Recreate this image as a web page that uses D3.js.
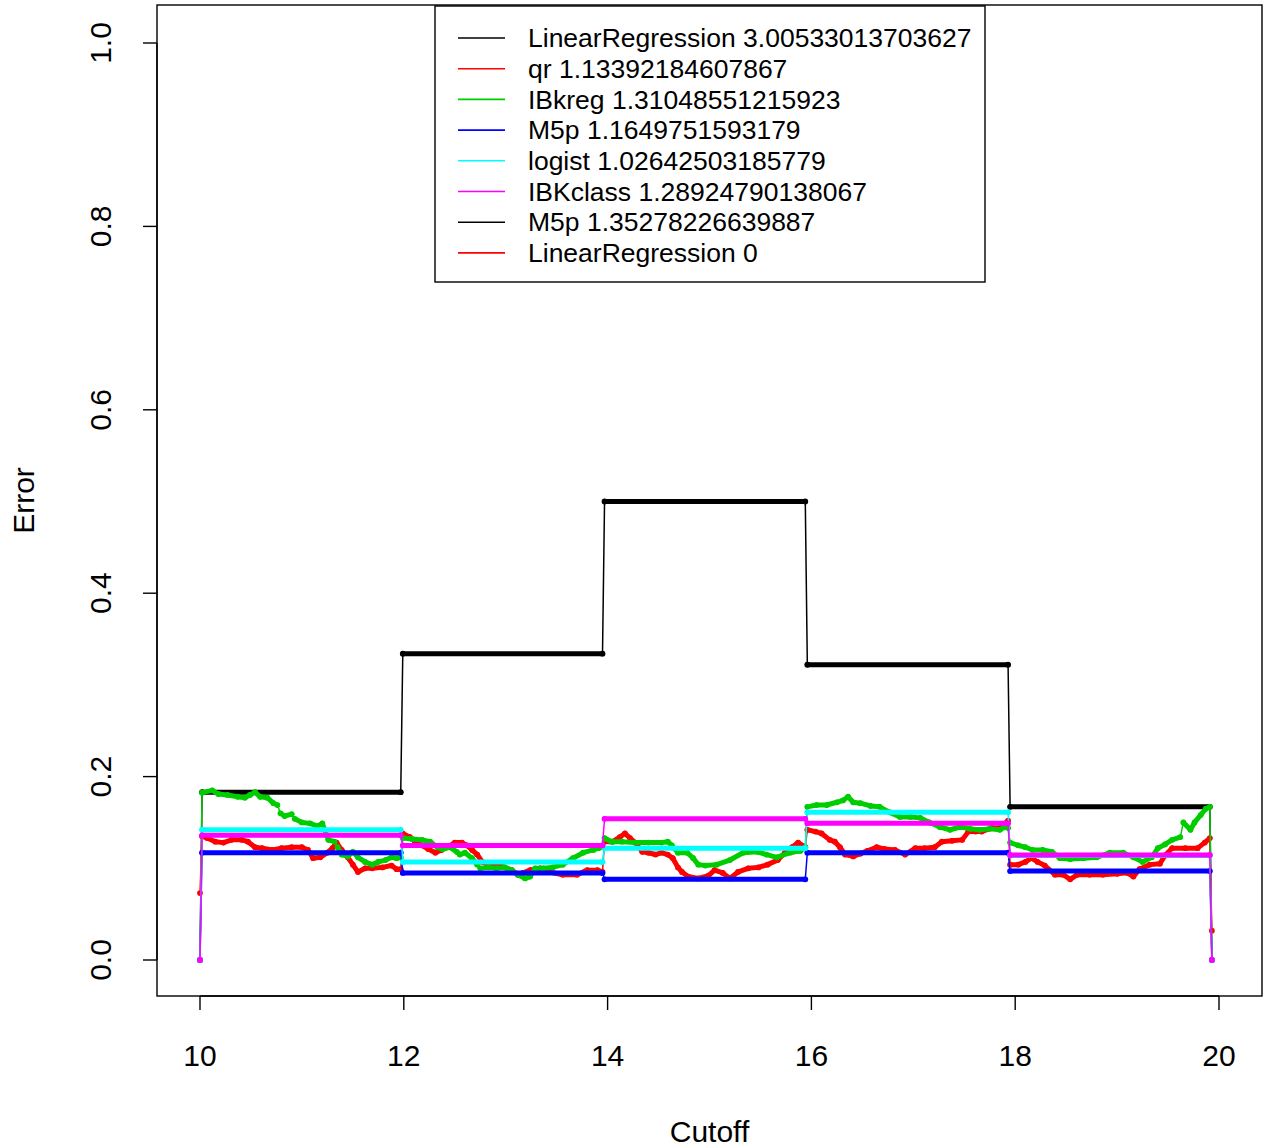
<!DOCTYPE html>
<html><head><meta charset="utf-8">
<script src="https://cdn.jsdelivr.net/npm/d3@7"></script>
<style>body{margin:0;background:#fff}svg{display:block}text{font-family:"Liberation Sans",Arial,sans-serif;fill:#000}</style>
</head><body>
<script>
// ---------- data ----------
const xTicks = [10, 12, 14, 16, 18, 20];
const yTicks = [0, 0.2, 0.4, 0.6, 0.8, 1.0];
const yTickLabels = ["0.0", "0.2", "0.4", "0.6", "0.8", "1.0"];

const legendLabels = [
  "LinearRegression 3.00533013703627",
  "qr 1.13392184607867",
  "IBkreg 1.31048551215923",
  "M5p 1.1649751593179",
  "logist 1.02642503185779",
  "IBKclass 1.28924790138067",
  "M5p 1.35278226639887",
  "LinearRegression 0"
];
const legendColors = ["#000000", "#FF0000", "#00CD00", "#0000FF", "#00FFFF", "#FF00FF", "#000000", "#FF0000"];

// step-series knot cutoffs
const stepCutoffs = [10.0, 10.02, 11.97, 11.99, 13.95, 13.97, 15.94, 15.96, 17.93, 17.95, 19.91, 19.93];
const linRegErr = [0, 0.183, 0.183, 0.334, 0.334, 0.500, 0.500, 0.322, 0.322, 0.167, 0.167, 0];
const m5pErr    = [0, 0.117, 0.117, 0.095, 0.095, 0.088, 0.088, 0.117, 0.117, 0.097, 0.097, 0];
const logistErr = [0, 0.142, 0.142, 0.107, 0.107, 0.122, 0.122, 0.161, 0.161, 0.114, 0.114, 0];
const ibkClassErr = [0, 0.136, 0.136, 0.125, 0.125, 0.154, 0.154, 0.149, 0.149, 0.1145, 0.1145, 0];

// qr (red) noisy series
const qrCutoffs = [10.0, 10.02, 10.07, 10.15, 10.23, 10.31, 10.41, 10.47, 10.54, 10.61, 10.71, 10.80, 10.90, 11.00, 11.06, 11.11, 11.18, 11.25, 11.30, 11.34, 11.39, 11.45, 11.50, 11.55, 11.62, 11.69, 11.79, 11.88, 11.93, 11.97,
  11.99, 12.06, 12.11, 12.18, 12.24, 12.31, 12.37, 12.43, 12.50, 12.57, 12.62, 12.67, 12.72, 12.77, 12.83, 12.91, 12.99, 13.06, 13.12, 13.17, 13.24, 13.34, 13.43, 13.56, 13.70, 13.80, 13.90, 13.95,
  13.97, 14.05, 14.12, 14.17, 14.22, 14.27, 14.34, 14.40, 14.47, 14.53, 14.59, 14.64, 14.69, 14.73, 14.79, 14.89, 14.99, 15.05, 15.13, 15.20, 15.28, 15.38, 15.48, 15.57, 15.67, 15.74, 15.81, 15.87, 15.94,
  15.96, 16.04, 16.10, 16.18, 16.23, 16.28, 16.33, 16.41, 16.48, 16.55, 16.64, 16.72, 16.82, 16.92, 17.02, 17.11, 17.21, 17.28, 17.38, 17.48, 17.54, 17.61, 17.67, 17.77, 17.85, 17.93,
  17.95, 18.03, 18.10, 18.16, 18.22, 18.29, 18.39, 18.47, 18.54, 18.61, 18.73, 18.86, 19.00, 19.10, 19.16, 19.22, 19.32, 19.42, 19.47, 19.54, 19.67, 19.79, 19.86, 19.91, 19.93];
const qrErr = [0.073, 0.135, 0.133, 0.129, 0.128, 0.131, 0.131, 0.129, 0.123, 0.122, 0.120, 0.122, 0.123, 0.123, 0.120, 0.111, 0.112, 0.117, 0.122, 0.128, 0.120, 0.112, 0.104, 0.096, 0.100, 0.100, 0.101, 0.103, 0.099, 0.099,
  0.138, 0.134, 0.129, 0.125, 0.121, 0.117, 0.120, 0.123, 0.128, 0.128, 0.125, 0.120, 0.115, 0.107, 0.104, 0.104, 0.101, 0.098, 0.093, 0.095, 0.098, 0.100, 0.096, 0.093, 0.093, 0.098, 0.098, 0.096,
  0.129, 0.129, 0.134, 0.138, 0.133, 0.128, 0.118, 0.117, 0.115, 0.117, 0.115, 0.111, 0.101, 0.096, 0.091, 0.089, 0.092, 0.098, 0.095, 0.089, 0.096, 0.100, 0.101, 0.104, 0.109, 0.117, 0.123, 0.128, 0.123,
  0.142, 0.140, 0.138, 0.131, 0.129, 0.123, 0.115, 0.113, 0.116, 0.119, 0.123, 0.121, 0.120, 0.115, 0.122, 0.122, 0.123, 0.129, 0.130, 0.131, 0.140, 0.140, 0.140, 0.144, 0.144, 0.152,
  0.104, 0.104, 0.107, 0.111, 0.107, 0.103, 0.093, 0.093, 0.088, 0.093, 0.093, 0.093, 0.094, 0.095, 0.091, 0.099, 0.104, 0.105, 0.114, 0.122, 0.122, 0.122, 0.128, 0.133, 0.032];

// IBkreg (green) noisy series
const ibkRegCutoffs = [10.0, 10.02, 10.12, 10.18, 10.27, 10.37, 10.44, 10.49, 10.54, 10.59, 10.66, 10.72, 10.76, 10.79, 10.83, 10.90, 10.93, 11.00, 11.08, 11.15, 11.20, 11.26, 11.32, 11.35, 11.39, 11.45, 11.50, 11.55, 11.62, 11.69, 11.75, 11.82, 11.88, 11.93, 11.97,
  11.99, 12.08, 12.18, 12.26, 12.33, 12.38, 12.45, 12.52, 12.55, 12.60, 12.67, 12.72, 12.75, 12.83, 12.91, 12.99, 13.06, 13.12, 13.19, 13.24, 13.29, 13.37, 13.46, 13.56, 13.66, 13.76, 13.86, 13.91, 13.95,
  13.97, 14.04, 14.14, 14.27, 14.40, 14.53, 14.59, 14.63, 14.69, 14.78, 14.84, 14.89, 14.96, 15.07, 15.20, 15.33, 15.47, 15.56, 15.66, 15.79, 15.89, 15.94,
  15.96, 16.05, 16.15, 16.25, 16.31, 16.36, 16.41, 16.48, 16.58, 16.67, 16.77, 16.87, 16.97, 17.07, 17.16, 17.26, 17.36, 17.46, 17.56, 17.65, 17.75, 17.85, 17.90, 17.93,
  17.95, 18.03, 18.10, 18.17, 18.27, 18.36, 18.44, 18.54, 18.67, 18.80, 18.93, 19.06, 19.16, 19.25, 19.34, 19.40, 19.47, 19.54, 19.62, 19.65, 19.72, 19.76, 19.82, 19.87, 19.91, 19.93];
const ibkRegErr = [0, 0.1825, 0.185, 0.181, 0.180, 0.178, 0.177, 0.180, 0.183, 0.178, 0.177, 0.171, 0.169, 0.160, 0.157, 0.159, 0.154, 0.150, 0.149, 0.146, 0.149, 0.131, 0.129, 0.123, 0.115, 0.113, 0.118, 0.112, 0.107, 0.104, 0.107, 0.109, 0.112, 0.111, 0.112,
  0.133, 0.132, 0.131, 0.129, 0.123, 0.121, 0.123, 0.118, 0.115, 0.117, 0.111, 0.104, 0.100, 0.101, 0.100, 0.101, 0.098, 0.093, 0.089, 0.091, 0.100, 0.100, 0.101, 0.104, 0.111, 0.117, 0.120, 0.122, 0.123,
  0.133, 0.129, 0.129, 0.128, 0.128, 0.128, 0.129, 0.125, 0.117, 0.117, 0.111, 0.104, 0.103, 0.104, 0.109, 0.117, 0.118, 0.115, 0.112, 0.117, 0.119, 0.123,
  0.167, 0.169, 0.169, 0.172, 0.174, 0.178, 0.172, 0.171, 0.168, 0.167, 0.161, 0.156, 0.156, 0.155, 0.150, 0.145, 0.142, 0.145, 0.143, 0.142, 0.143, 0.142, 0.145, 0.144,
  0.128, 0.125, 0.123, 0.120, 0.120, 0.118, 0.111, 0.110, 0.111, 0.112, 0.117, 0.117, 0.112, 0.107, 0.112, 0.122, 0.126, 0.131, 0.134, 0.150, 0.142, 0.150, 0.158, 0.165, 0.167, 0];

// ---------- chart ----------
const W = 1272, H = 1148;
const box = {left: 157, right: 1262, top: 5, bottom: 996};
const x = d3.scaleLinear().domain([10, 20]).range([200, 1219]);
const y = d3.scaleLinear().domain([0, 1]).range([960, 43]);

const svg = d3.select("body").append("svg").attr("width", W).attr("height", H);

const series = [
  {name: "LinearRegression", xs: stepCutoffs, ys: linRegErr, color: "#000000"},
  {name: "qr", xs: qrCutoffs, ys: qrErr, color: "#FF0000"},
  {name: "IBkreg", xs: ibkRegCutoffs, ys: ibkRegErr, color: "#00CD00"},
  {name: "M5p", xs: stepCutoffs, ys: m5pErr, color: "#0000FF"},
  {name: "logist", xs: stepCutoffs, ys: logistErr, color: "#00FFFF"},
  {name: "IBKclass", xs: stepCutoffs, ys: ibkClassErr, color: "#FF00FF"}
];

const line = d3.line().x(d => x(d[0])).y(d => y(d[1]));
const plot = svg.append("g");
series.forEach(s => {
  const pts = s.xs.map((c, i) => [c, s.ys[i]]);
  const g = plot.append("g");
  // thin connecting line
  g.append("path").attr("d", line(pts)).attr("fill", "none")
    .attr("stroke", s.color).attr("stroke-width", 1.5);
  // dense runs (drawn as thick, since points are packed)
  for (let i = 0; i < pts.length - 1; i++) {
    if (pts[i + 1][0] - pts[i][0] >= 0.03) {
      g.append("path").attr("d", line([pts[i], pts[i + 1]])).attr("fill", "none")
        .attr("stroke", s.color).attr("stroke-width", 5)
        .attr("stroke-linecap", "round").attr("stroke-linejoin", "round");
    }
  }
  g.selectAll("circle").data(pts).join("circle")
    .attr("cx", d => x(d[0])).attr("cy", d => y(d[1])).attr("r", 2.9)
    .attr("fill", s.color);
});

// box
svg.append("rect").attr("x", box.left).attr("y", box.top)
  .attr("width", box.right - box.left).attr("height", box.bottom - box.top)
  .attr("fill", "none").attr("stroke", "#000").attr("stroke-width", 1.4);

// x axis
const xa = svg.append("g");
xa.append("line").attr("x1", x(10)).attr("x2", x(20)).attr("y1", box.bottom).attr("y2", box.bottom).attr("stroke", "#000").attr("stroke-width", 1.4);
xTicks.forEach(t => {
  xa.append("line").attr("x1", x(t)).attr("x2", x(t)).attr("y1", box.bottom).attr("y2", box.bottom + 14).attr("stroke", "#000").attr("stroke-width", 1.4);
  xa.append("text").attr("x", x(t)).attr("y", 1066).attr("text-anchor", "middle").attr("font-size", 30).text(t);
});
// y axis
const ya = svg.append("g");
ya.append("line").attr("x1", box.left).attr("x2", box.left).attr("y1", y(0)).attr("y2", y(1)).attr("stroke", "#000").attr("stroke-width", 1.4);
yTicks.forEach((t, i) => {
  ya.append("line").attr("x1", box.left - 14).attr("x2", box.left).attr("y1", y(t)).attr("y2", y(t)).attr("stroke", "#000").attr("stroke-width", 1.4);
  ya.append("text").attr("transform", `translate(111,${y(t)}) rotate(-90)`).attr("text-anchor", "middle").attr("font-size", 30).text(yTickLabels[i]);
});
svg.append("text").attr("x", (box.left + box.right) / 2).attr("y", 1142).attr("text-anchor", "middle").attr("font-size", 30).text("Cutoff");
svg.append("text").attr("transform", `translate(34,${(box.top + box.bottom) / 2}) rotate(-90)`).attr("text-anchor", "middle").attr("font-size", 30).text("Error");

// legend
const lg = svg.append("g");
lg.append("rect").attr("x", 435).attr("y", 6).attr("width", 550).attr("height", 276)
  .attr("fill", "#fff").attr("stroke", "#000").attr("stroke-width", 1.4);
legendLabels.forEach((lab, i) => {
  const cy = 38 + i * 30.7;
  lg.append("line").attr("x1", 458).attr("x2", 505).attr("y1", cy).attr("y2", cy)
    .attr("stroke", legendColors[i]).attr("stroke-width", 1.6);
  lg.append("text").attr("x", 528).attr("y", cy).attr("dy", "0.35em").attr("font-size", 26.5).text(lab);
});
</script>
</body></html>
